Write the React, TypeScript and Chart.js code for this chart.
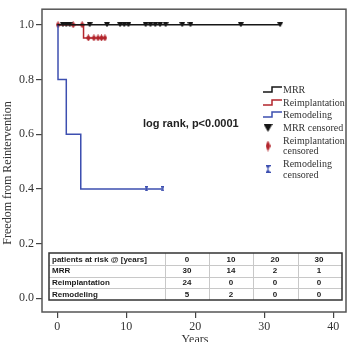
import { useEffect, useRef } from 'react';
import { Chart, registerables } from 'chart.js';

Chart.register(...registerables);

// Kaplan-Meier step curves (years, survival probability)
const mrrCurveX = [0, 32.3];
const mrrCurveY = [1, 1];
const reimpCurveX = [0, 3.8, 7.0];
const reimpCurveY = [1, 0.952, 0.952];
const remodCurveX = [0, 0.1, 1.3, 3.4, 15.3];
const remodCurveY = [1, 0.8, 0.6, 0.4, 0.4];

// Censored observations
const mrrCensorX = [0.8, 1.3, 1.8, 4.7, 7.2, 9.1, 9.7, 10.3, 12.8, 13.5, 14.2, 14.9, 15.7, 18.1, 19.3, 26.6, 32.3];
const mrrCensorY = mrrCensorX.map(() => 1);
const reimpCensorX = [0.1, 2.3, 3.6, 4.5, 5.3, 5.9, 6.4, 6.9];
const reimpCensorY = [1, 1, 1, 0.952, 0.952, 0.952, 0.952, 0.952];
const remodCensorX = [12.9, 15.3];
const remodCensorY = [0.4, 0.4];

// Axis ticks
const xTicks = [0, 10, 20, 30, 40];
const yTicks = [0, 0.2, 0.4, 0.6, 0.8, 1.0];

// Patients at risk table
const riskHeader = 'patients at risk @ [years]';
const riskYears = [0, 10, 20, 30];
const riskGroups = ['MRR', 'Reimplantation', 'Remodeling'];
const riskMRR = [30, 14, 2, 1];
const riskReimp = [24, 0, 0, 0];
const riskRemod = [5, 2, 0, 0];

const COLOR_MRR = '#161616';
const COLOR_REIMP = '#b3262d';
const COLOR_REMOD = '#3d4fb0';
const SERIF = '"Liberation Serif", "Times New Roman", serif';
const SANS = '"Liberation Sans", Arial, sans-serif';

function markerCanvas(w: number, h: number, draw: (c: CanvasRenderingContext2D) => void) {
  const cv = document.createElement('canvas');
  cv.width = w;
  cv.height = h;
  const c = cv.getContext('2d')!;
  draw(c);
  return cv;
}

function triangleDown(w: number, h: number, color: string) {
  return markerCanvas(w, h, (c) => {
    c.fillStyle = color;
    c.beginPath();
    c.moveTo(0, 0);
    c.lineTo(w, 0);
    c.lineTo(w / 2, h);
    c.closePath();
    c.fill();
  });
}

function diamond(w: number, h: number, color: string) {
  return markerCanvas(w, h, (c) => {
    c.fillStyle = color;
    c.beginPath();
    c.moveTo(w / 2, 0);
    c.lineTo(w, h / 2);
    c.lineTo(w / 2, h);
    c.lineTo(0, h / 2);
    c.closePath();
    c.fill();
  });
}

function iBeam(w: number, h: number, color: string) {
  return markerCanvas(w, h, (c) => {
    c.strokeStyle = color;
    c.lineWidth = 1.2;
    c.beginPath();
    c.moveTo(0, 0.6);
    c.lineTo(w, 0.6);
    c.moveTo(0, h - 0.6);
    c.lineTo(w, h - 0.6);
    c.moveTo(w / 2, 0);
    c.lineTo(w / 2, h);
    c.stroke();
    c.fillStyle = color;
    c.beginPath();
    c.moveTo(0.5, 1);
    c.lineTo(w - 0.5, 1);
    c.lineTo(w / 2, h / 2);
    c.closePath();
    c.moveTo(0.5, h - 1);
    c.lineTo(w - 0.5, h - 1);
    c.lineTo(w / 2, h / 2);
    c.closePath();
    c.fill();
  });
}

const pts = (xs: number[], ys: number[]) => xs.map((x, i) => ({ x, y: ys[i] }));

export default function App() {
  const ref = useRef<HTMLCanvasElement>(null);

  useEffect(() => {
    document.body.style.margin = '0';

    const triSmall = triangleDown(6, 5, COLOR_MRR);
    const triLegend = triangleDown(9, 8, COLOR_MRR);
    const diaSmall = diamond(5, 7, COLOR_REIMP);
    const diaLegend = diamond(5, 11, COLOR_REIMP);
    const beamSmall = iBeam(3, 5, COLOR_REMOD);
    const beamLegend = iBeam(5, 8, COLOR_REMOD);

    const overlay = {
      id: 'kmOverlay',
      afterDraw(chart: any) {
        const { ctx, chartArea } = chart;
        const { left, top, right, bottom } = chartArea;
        ctx.save();

        // plot frame
        ctx.strokeStyle = '#555';
        ctx.lineWidth = 1.5;
        ctx.strokeRect(left, top, right - left, bottom - top);

        // axis titles
        ctx.fillStyle = '#333';
        ctx.font = `12px ${SERIF}`;
        ctx.textAlign = 'center';
        ctx.textBaseline = 'middle';
        ctx.fillText('Years', 195, 340);
        ctx.save();
        ctx.translate(8, 173);
        ctx.rotate(-Math.PI / 2);
        ctx.fillText('Freedom from Reintervention', 0, 0);
        ctx.restore();

        // log rank annotation
        ctx.fillStyle = '#222';
        ctx.font = `bold 11px ${SANS}`;
        ctx.textAlign = 'left';
        ctx.textBaseline = 'middle';
        ctx.fillText('log rank, p<0.0001', 143, 124);

        // legend
        const lx = 263;
        const tx = 283;
        const stepIcon = (y: number, color: string) => {
          ctx.strokeStyle = color;
          ctx.lineWidth = 1.5;
          ctx.beginPath();
          ctx.moveTo(lx, y + 2);
          ctx.lineTo(lx + 9, y + 2);
          ctx.lineTo(lx + 9, y - 3);
          ctx.lineTo(lx + 19, y - 3);
          ctx.stroke();
        };
        ctx.font = `10px ${SERIF}`;
        ctx.fillStyle = '#333';
        ctx.textBaseline = 'middle';
        stepIcon(90, COLOR_MRR);
        ctx.fillText('MRR', tx, 90);
        stepIcon(103, COLOR_REIMP);
        ctx.fillText('Reimplantation', tx, 103);
        stepIcon(115, COLOR_REMOD);
        ctx.fillText('Remodeling', tx, 115);
        ctx.drawImage(triLegend, 268 - 4.5, 128 - 4);
        ctx.fillText('MRR censored', tx, 128);
        ctx.drawImage(diaLegend, 268 - 2.5, 146 - 5.5);
        ctx.fillText('Reimplantation', tx, 141);
        ctx.fillText('censored', tx, 151);
        ctx.drawImage(beamLegend, 268 - 2.5, 169 - 4);
        ctx.fillText('Remodeling', tx, 164);
        ctx.fillText('censored', tx, 175);

        // patients-at-risk table
        const tL = 49, tR = 342, tT = 253, tB = 300;
        const rowH = (tB - tT) / 4;
        const colEdges = [165, 209, 253, 298];
        ctx.fillStyle = '#fff';
        ctx.fillRect(tL, tT, tR - tL, tB - tT);
        ctx.strokeStyle = '#c8c8c8';
        ctx.lineWidth = 1;
        ctx.beginPath();
        for (let r = 1; r < 4; r++) {
          const y = Math.round(tT + r * rowH) + 0.5;
          ctx.moveTo(tL, y);
          ctx.lineTo(tR, y);
        }
        colEdges.forEach((x) => {
          ctx.moveTo(x + 0.5, tT);
          ctx.lineTo(x + 0.5, tB);
        });
        ctx.stroke();
        ctx.strokeStyle = '#333';
        ctx.lineWidth = 1.5;
        ctx.strokeRect(tL, tT, tR - tL, tB - tT);

        const rows: (string | number)[][] = [
          [riskHeader, ...riskYears],
          [riskGroups[0], ...riskMRR],
          [riskGroups[1], ...riskReimp],
          [riskGroups[2], ...riskRemod],
        ];
        const colCenters = [187, 231, 275, 319];
        ctx.font = `bold 8px ${SANS}`;
        ctx.fillStyle = '#1a1a1a';
        ctx.textBaseline = 'middle';
        rows.forEach((row, r) => {
          const y = tT + rowH * (r + 0.5) + 0.5;
          ctx.textAlign = 'left';
          ctx.fillText(String(row[0]), 52, y);
          ctx.textAlign = 'center';
          for (let c = 1; c < row.length; c++) {
            ctx.fillText(String(row[c]), colCenters[c - 1], y);
          }
        });

        ctx.restore();
      },
    };

    const chart = new Chart(ref.current!, {
      type: 'scatter',
      data: {
        datasets: [
          {
            data: pts(mrrCurveX, mrrCurveY),
            showLine: true,
            stepped: 'before',
            borderColor: COLOR_MRR,
            borderWidth: 1.5,
            pointRadius: 0,
          },
          {
            data: pts(remodCurveX, remodCurveY),
            showLine: true,
            stepped: 'before',
            borderColor: COLOR_REMOD,
            borderWidth: 1.5,
            pointRadius: 0,
          },
          {
            data: pts(reimpCurveX, reimpCurveY),
            showLine: true,
            stepped: 'before',
            borderColor: COLOR_REIMP,
            borderWidth: 1.5,
            pointRadius: 0,
          },
          {
            data: pts(mrrCensorX, mrrCensorY),
            showLine: false,
            pointStyle: triSmall as any,
            pointRadius: 3,
          },
          {
            data: pts(reimpCensorX, reimpCensorY),
            showLine: false,
            pointStyle: diaSmall as any,
            pointRadius: 3,
          },
          {
            data: pts(remodCensorX, remodCensorY),
            showLine: false,
            pointStyle: beamSmall as any,
            pointRadius: 3,
          },
        ],
      },
      options: {
        animation: false,
        responsive: false,
        maintainAspectRatio: false,
        events: [],
        layout: { padding: { top: 3, right: 7, left: 0, bottom: 0 } },
        plugins: {
          legend: { display: false },
          tooltip: { enabled: false },
        },
        scales: {
          x: {
            type: 'linear',
            min: -2.22,
            max: 41.84,
            afterBuildTicks: (s: any) => {
              s.ticks = xTicks.map((v) => ({ value: v }));
            },
            afterFit: (s: any) => {
              s.height = 30;
            },
            border: { display: false },
            grid: { drawOnChartArea: false, drawTicks: true, tickLength: 6, color: '#444', lineWidth: 1.2 },
            ticks: {
              color: '#333',
              padding: 2,
              font: { family: SERIF, size: 12 },
              callback: (v: any) => String(v),
            },
          },
          y: {
            type: 'linear',
            min: -0.05,
            max: 1.057,
            afterBuildTicks: (s: any) => {
              s.ticks = yTicks.map((v) => ({ value: v }));
            },
            afterFit: (s: any) => {
              s.width = 42;
            },
            border: { display: false },
            grid: { drawOnChartArea: false, drawTicks: true, tickLength: 6, color: '#444', lineWidth: 1.2 },
            ticks: {
              color: '#333',
              padding: 2,
              font: { family: SERIF, size: 12 },
              callback: (v: any) => Number(v).toFixed(1),
            },
          },
        },
      },
      plugins: [overlay],
    });

    return () => chart.destroy();
  }, []);

  return (
    <div style={{ width: 353, height: 342 }}>
      <canvas ref={ref} width={353} height={342} style={{ display: 'block' }} />
    </div>
  );
}
